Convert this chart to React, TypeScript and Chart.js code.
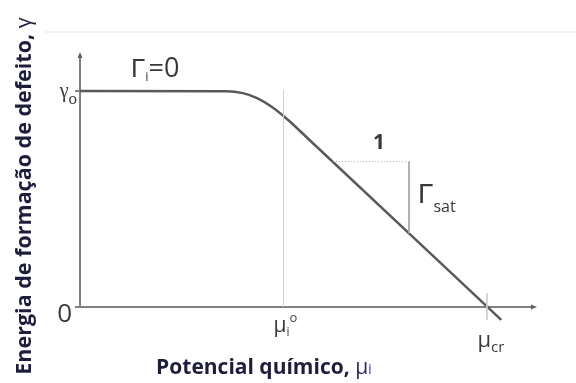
import React, { useEffect, useRef } from "react";
import { Chart, registerables } from "chart.js";

Chart.register(...registerables);

// Defect formation energy vs. chemical potential (normalised units)
const potential = [0, 0.72, 0.8, 0.87, 0.94, 1.02, 1.12, 2.07];
const energy = [1, 0.999, 0.99, 0.967, 0.928, 0.868, 0.78, -0.06];

// Reference marks on the axes
const xTickValues = [1, 2]; // μi°, μcr
const yTickValues = [0, 1]; // 0, γo

// Slope triangle on the linear branch (run = 1, rise = Γsat)
const triangleX = [1.243, 1.617];
const triangleY = [0.673, 0.341];

const xMax = 2.236;
const yMax = 1.171;

const SANS = '"Open Sans", "Noto Sans", sans-serif';
const GREEK = '"Liberation Sans", "DejaVu Sans", sans-serif';
const SERIF = '"Liberation Serif", "DejaVu Serif", serif';

type Run = { t: string; font: string; dy?: number; color?: string };

function drawRuns(
  ctx: CanvasRenderingContext2D,
  x: number,
  y: number,
  runs: Run[],
  align: "left" | "center" | "right" = "left",
  color = "#333"
) {
  ctx.textAlign = "left";
  ctx.textBaseline = "alphabetic";
  let total = 0;
  for (const r of runs) {
    ctx.font = r.font;
    total += ctx.measureText(r.t).width;
  }
  let cx = align === "left" ? x : align === "center" ? x - total / 2 : x - total;
  for (const r of runs) {
    ctx.font = r.font;
    ctx.fillStyle = r.color || color;
    ctx.fillText(r.t, cx, y + (r.dy || 0));
    cx += ctx.measureText(r.t).width;
  }
}

const diagramPlugin = {
  id: "diagram",
  beforeDatasetsDraw(chart: any) {
    const { ctx, chartArea, scales } = chart;
    const xs = scales.x;
    const ys = scales.y;
    const x0 = xs.getPixelForValue(0);
    const y0 = ys.getPixelForValue(0);
    const top = chartArea.top;
    const right = chartArea.right;
    ctx.save();

    // faint rule across the top
    ctx.strokeStyle = "#ededed";
    ctx.lineWidth = 1.5;
    ctx.beginPath();
    ctx.moveTo(45, top - 22);
    ctx.lineTo(chart.width, top - 22);
    ctx.stroke();

    // axes
    ctx.strokeStyle = "#808080";
    ctx.lineWidth = 2;
    ctx.beginPath();
    ctx.moveTo(x0, top);
    ctx.lineTo(x0, y0 + 1);
    ctx.moveTo(x0 - 5, y0);
    ctx.lineTo(right, y0);
    for (const v of yTickValues) {
      const py = ys.getPixelForValue(v);
      ctx.moveTo(x0 - 5, py);
      ctx.lineTo(x0, py);
    }
    ctx.stroke();

    // small arrow heads
    ctx.fillStyle = "#606060";
    ctx.beginPath();
    ctx.moveTo(right + 2, y0);
    ctx.lineTo(right - 4, y0 - 2.5);
    ctx.lineTo(right - 4, y0 + 2.5);
    ctx.closePath();
    ctx.fill();
    ctx.beginPath();
    ctx.moveTo(x0, top - 2);
    ctx.lineTo(x0 - 2.5, top + 4);
    ctx.lineTo(x0 + 2.5, top + 4);
    ctx.closePath();
    ctx.fill();
    ctx.restore();
  },
  afterDatasetsDraw(chart: any) {
    const { ctx, chartArea, scales } = chart;
    const xs = scales.x;
    const ys = scales.y;
    const x0 = xs.getPixelForValue(0);
    const y0 = ys.getPixelForValue(0);
    ctx.save();

    // y tick labels
    const pyTop = ys.getPixelForValue(yTickValues[1]);
    drawRuns(
      ctx,
      x0 - 3,
      pyTop + 6,
      [
        { t: "γ", font: `20px ${SERIF}` },
        { t: "o", font: `17px ${SERIF}`, dy: 7 },
      ],
      "right",
      "#3c3c3c"
    );
    drawRuns(ctx, x0 - 8, y0 + 15, [{ t: "0", font: `26px ${SANS}` }], "right", "#3a3a3a");

    // x tick labels
    const pxI = xs.getPixelForValue(xTickValues[0]);
    drawRuns(
      ctx,
      pxI + 2,
      y0 + 25,
      [
        { t: "μ", font: `21px ${SANS}` },
        { t: "i", font: `12px ${SANS}`, dy: 4 },
        { t: "o", font: `13px ${SANS}`, dy: -10, color: "#444" },
      ],
      "center",
      "#3a3a3a"
    );
    const pxC = xs.getPixelForValue(xTickValues[1]);
    drawRuns(
      ctx,
      pxC + 4,
      y0 + 40,
      [
        { t: "μ", font: `22px ${SANS}` },
        { t: "cr", font: `15px ${SANS}`, dy: 5 },
      ],
      "center",
      "#3a3a3a"
    );

    // regime label on the plateau
    drawRuns(
      ctx,
      131,
      chartArea.top + 23,
      [
        { t: "Γ", font: `26px ${GREEK}` },
        { t: "i", font: `13px ${SANS}`, dy: 4 },
        { t: "=0", font: `27px ${SANS}` },
      ],
      "left",
      "#383838"
    );

    // slope triangle labels
    const tx0 = xs.getPixelForValue(triangleX[0]);
    const tx1 = xs.getPixelForValue(triangleX[1]);
    const ty0 = ys.getPixelForValue(triangleY[0]);
    const ty1 = ys.getPixelForValue(triangleY[1]);
    drawRuns(ctx, (tx0 + tx1) / 2 + 8, ty0 - 13, [{ t: "1", font: `bold 21px ${SANS}` }], "center", "#383838");
    drawRuns(
      ctx,
      tx1 + 9,
      (ty0 + ty1) / 2 + 6,
      [
        { t: "Γ", font: `28px ${GREEK}` },
        { t: "sat", font: `16px ${SANS}`, dy: 9 },
      ],
      "left",
      "#383838"
    );

    // axis titles
    const titleColor = "#1e1e3c";
    drawRuns(
      ctx,
      264,
      374,
      [
        { t: "Potencial químico, ", font: `bold 21px ${SANS}` },
        { t: "μ", font: `21px ${SANS}`, color: "#2e2a5e" },
        { t: "i", font: `15px ${SANS}`, color: "#5244b0" },
      ],
      "center",
      titleColor
    );
    ctx.save();
    ctx.translate(31, 196);
    ctx.rotate(-Math.PI / 2);
    drawRuns(
      ctx,
      0,
      0,
      [
        { t: "Energia de formação de defeito, ", font: `bold 21.5px ${SANS}` },
        { t: "γ", font: `21.5px ${SANS}` },
      ],
      "center",
      titleColor
    );
    ctx.restore();
    ctx.restore();
  },
};

export default function App() {
  const canvasRef = useRef<HTMLCanvasElement | null>(null);

  useEffect(() => {
    const canvas = canvasRef.current;
    if (!canvas) return;
    const curve = potential.map((x, i) => ({ x, y: energy[i] }));
    const chart = new Chart(canvas, {
      type: "scatter",
      data: {
        datasets: [
          {
            // guide at μi°
            data: [
              { x: xTickValues[0], y: 0 },
              { x: xTickValues[0], y: 1.005 },
            ],
            showLine: true,
            borderColor: "#cfcfcf",
            borderWidth: 1,
            pointRadius: 0,
          },
          {
            // tick across the axis at μcr
            data: [
              { x: xTickValues[1], y: 0.065 },
              { x: xTickValues[1], y: -0.06 },
            ],
            showLine: true,
            borderColor: "#cfcfcf",
            borderWidth: 1,
            pointRadius: 0,
            clip: false,
          },
          {
            // run of the slope triangle
            data: [
              { x: triangleX[0], y: triangleY[0] },
              { x: triangleX[1], y: triangleY[0] },
            ],
            showLine: true,
            borderColor: "#b0b0b0",
            borderWidth: 1,
            borderDash: [1, 2],
            pointRadius: 0,
          },
          {
            // rise of the slope triangle
            data: [
              { x: triangleX[1], y: triangleY[0] },
              { x: triangleX[1], y: triangleY[1] },
            ],
            showLine: true,
            borderColor: "#a8a8a8",
            borderWidth: 1,
            pointRadius: 0,
          },
          {
            data: curve,
            showLine: true,
            borderColor: "#595959",
            borderWidth: 2.5,
            pointRadius: 0,
            cubicInterpolationMode: "monotone",
            clip: false,
          },
        ],
      },
      options: {
        responsive: false,
        animation: false,
        events: [],
        layout: { padding: { left: 80, right: 41, top: 54, bottom: 76 } },
        plugins: { legend: { display: false }, tooltip: { enabled: false } },
        scales: {
          x: { type: "linear", min: 0, max: xMax, display: false },
          y: { type: "linear", min: 0, max: yMax, display: false },
        },
      },
      plugins: [diagramPlugin],
    });
    return () => chart.destroy();
  }, []);

  return (
    <div style={{ position: "fixed", left: 0, top: 0, width: 576, height: 383, background: "#fff" }}>
      <canvas ref={canvasRef} width={576} height={383} style={{ display: "block" }} />
    </div>
  );
}
